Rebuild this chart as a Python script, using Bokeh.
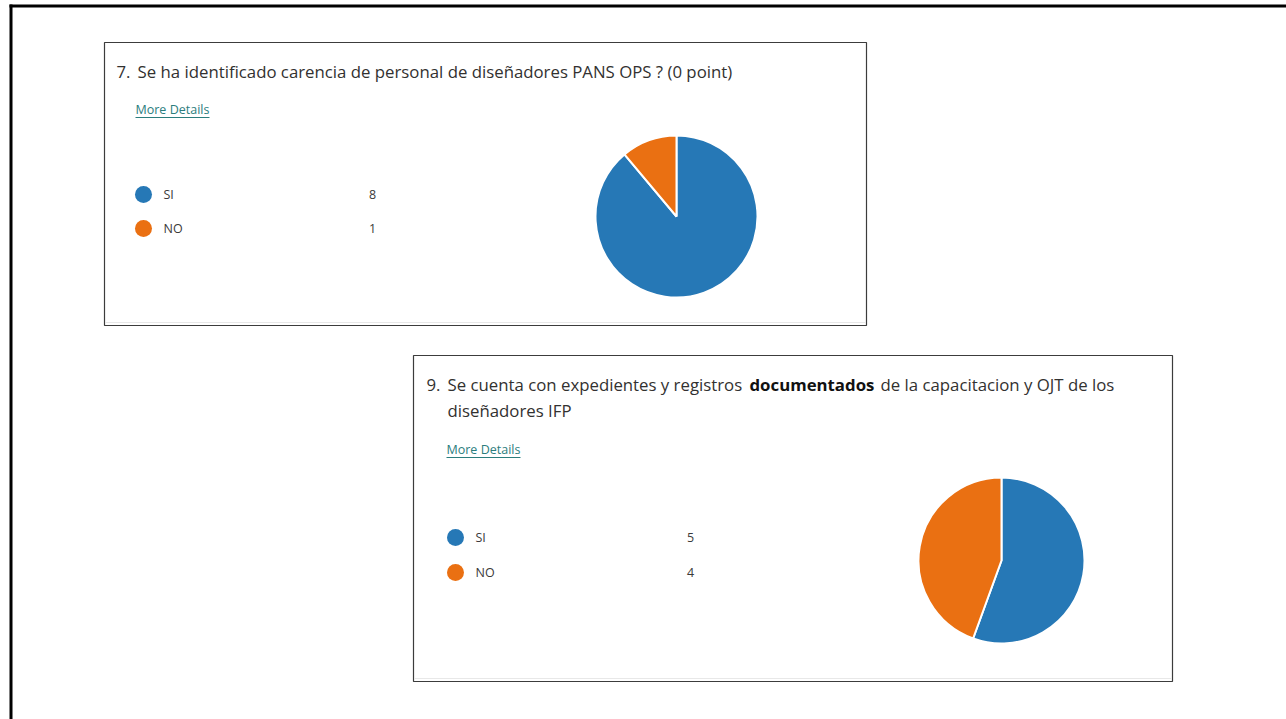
import numpy as np
from bokeh.plotting import figure
from bokeh.models import Range1d, ColumnDataSource
from bokeh.core.properties import value
from bokeh.embed import file_html
from bokeh.resources import INLINE

# ---- data ----
q7_title = "Se ha identificado carencia de personal de diseñadores PANS OPS ? (0 point)"
q9_title_a = "Se cuenta con expedientes y registros"
q9_title_b = "documentados"
q9_title_c = "de la capacitacion y OJT de los"
q9_title_d = "diseñadores IFP"
categories = ["SI", "NO"]
q7_values = [8, 1]
q9_values = [5, 4]
colors = ["#2678b6", "#ea7012"]

W, H = 1286, 719
FONT = value("Open Sans")
TXT = "#323130"
LINK = "#2b7d7d"

p = figure(width=W, height=H, x_range=Range1d(0, W), y_range=Range1d(0, H),
           output_backend="svg", toolbar_location=None, min_border=0)
p.axis.visible = False
p.grid.visible = False
p.outline_line_color = None
p.background_fill_color = "white"
p.border_fill_color = "white"


def Y(py):
    return 719 - py


# slide frame
p.quad(left=[9], right=[1290], top=[Y(4)], bottom=[Y(7)], fill_color="black", line_color=None)
p.quad(left=[9], right=[12], top=[Y(4)], bottom=[Y(725)], fill_color="black", line_color=None)


def panel(l, t, r, b):
    p.quad(left=[l], right=[r], top=[Y(t)], bottom=[Y(b)], fill_color="white",
           line_color="#3c3c3c", line_width=1.2)
    p.segment(x0=[l + 1], x1=[r - 1], y0=[Y(b - 3)], y1=[Y(b - 3)], line_color="#e8e8e8", line_width=1)


def txt(x, y, s, size, color=TXT, bold=False, align="left"):
    p.text(x=[x], y=[Y(y)], text=[s], text_font=FONT, text_font_size=f"{size}px",
           text_color=color, text_baseline="middle", text_align=align,
           text_font_style="bold" if bold else "normal")


def more_details(x, y):
    txt(x, y, "More Details", 12.5, color=LINK)
    p.segment(x0=[x], x1=[x + 74], y0=[Y(y + 8)], y1=[Y(y + 8)], line_color=LINK, line_width=1)


def legend(xc, y0, dy, xv, vals):
    for i, (c, v) in enumerate(zip(categories, vals)):
        yy = y0 + i * dy
        p.scatter(x=[xc], y=[Y(yy)], size=17, marker="circle", fill_color=colors[i], line_color=None)
        txt(xc + 20, yy, c, 12.5, color="#3b3a39")
        txt(xv, yy, str(v), 12.5, color="#3b3a39", align="center")


def pie(cx, cy, r, vals):
    vals = np.array(vals, dtype=float)
    fr = np.cumsum(vals) / vals.sum()
    start = np.pi / 2 - 2 * np.pi * np.concatenate([[0], fr[:-1]])
    end = np.pi / 2 - 2 * np.pi * fr
    src = ColumnDataSource(dict(start=start, end=end, color=colors, cat=categories))
    p.wedge(x=cx, y=Y(cy), radius=r, start_angle="start", end_angle="end", direction="clock",
            fill_color="color", line_color="white", line_width=2, source=src)


# panel 1
panel(104, 42, 866, 325)
txt(116, 71, "7.", 16.8)
txt(137, 71, q7_title, 16.8)
more_details(135, 109)
legend(143, 194, 34, 372, q7_values)
pie(676, 216, 81, q7_values)

# panel 2
panel(413, 355, 1172, 681)
txt(426, 384, "9.", 16.8)
txt(447, 384, q9_title_a, 16.8)
txt(749, 384, q9_title_b, 16.8, color="#111111", bold=True)
txt(880, 384, q9_title_c, 16.8)
txt(447, 410, q9_title_d, 16.8)
more_details(446, 449)
legend(455, 537, 35, 690, q9_values)
pie(1001, 560, 83, q9_values)

open("out.html", "w").write(file_html(p, INLINE))
